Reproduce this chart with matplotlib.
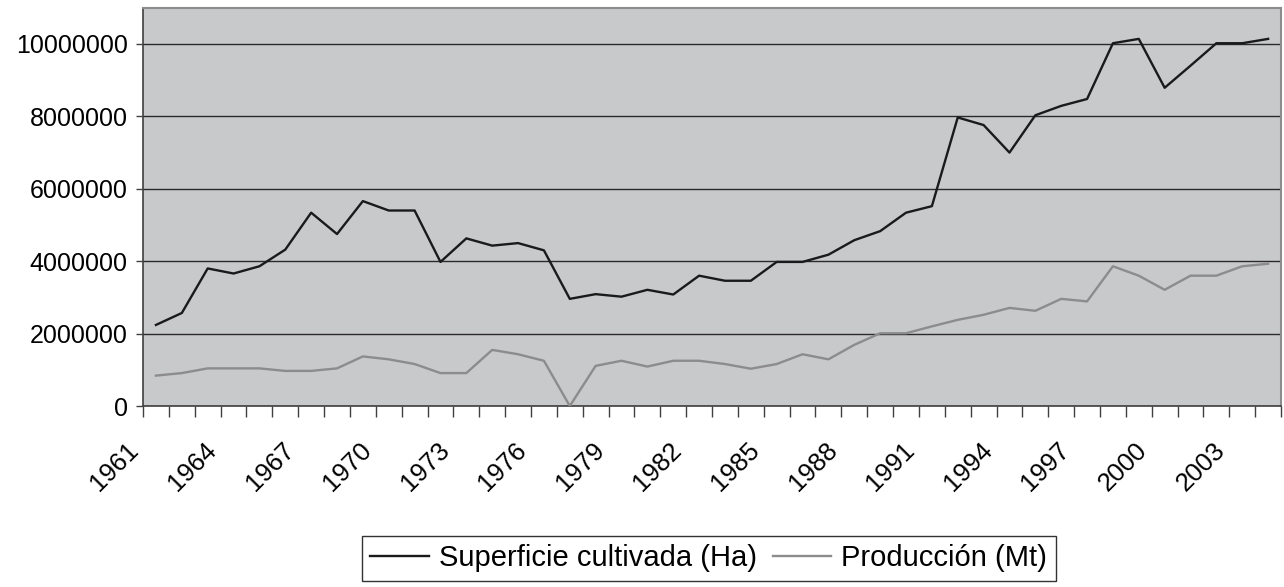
import matplotlib
matplotlib.use("Agg")
import matplotlib.pyplot as plt
import matplotlib.transforms as mtransforms
import numpy as np

plt.rcParams["font.family"] = ["Liberation Sans", "DejaVu Sans"]

years = list(range(1961, 2005))

# Superficie cultivada (Ha)
superficie = [
    2.24e6, 2.57e6, 3.80e6, 3.66e6, 3.86e6, 4.32e6, 5.34e6, 4.75e6, 5.66e6, 5.40e6,
    5.40e6, 3.98e6, 4.63e6, 4.43e6, 4.50e6, 4.30e6, 2.96e6, 3.09e6, 3.02e6, 3.21e6,
    3.08e6, 3.60e6, 3.46e6, 3.46e6, 3.98e6, 3.98e6, 4.18e6, 4.58e6, 4.83e6, 5.34e6,
    5.52e6, 7.97e6, 7.76e6, 7.00e6, 8.03e6, 8.29e6, 8.48e6, 10.02e6, 10.14e6, 8.79e6,
    9.40e6, 10.02e6, 10.02e6, 10.14e6,
]

# Producción (Mt)
produccion = [
    0.84e6, 0.91e6, 1.04e6, 1.04e6, 1.04e6, 0.97e6, 0.97e6, 1.04e6, 1.37e6, 1.29e6,
    1.16e6, 0.91e6, 0.91e6, 1.55e6, 1.43e6, 1.25e6, 0.0, 1.11e6, 1.25e6, 1.09e6,
    1.25e6, 1.25e6, 1.16e6, 1.03e6, 1.16e6, 1.43e6, 1.29e6, 1.69e6, 2.01e6, 2.01e6,
    2.20e6, 2.38e6, 2.52e6, 2.71e6, 2.63e6, 2.96e6, 2.89e6, 3.86e6, 3.60e6, 3.21e6,
    3.60e6, 3.60e6, 3.86e6, 3.93e6,
]

y_ticks = [0, 2000000, 4000000, 6000000, 8000000, 10000000]

fig = plt.figure(figsize=(12.84, 5.87), dpi=100)
ax = fig.add_axes([0.1114, 0.3083, 0.8863, 0.6785])
ax.set_facecolor("#c8c9cb")

x = np.arange(len(years))
ax.plot(x, superficie, color="#1a1a1a", linewidth=1.7, label="Superficie cultivada (Ha)", zorder=3)
ax.plot(x, produccion, color="#8c8c8c", linewidth=1.7, label="Producción (Mt)", zorder=3)

ax.set_xlim(-0.5, len(years) - 0.5)
ax.set_ylim(0, 11000000)
ax.set_yticks(y_ticks)
ax.set_yticklabels([str(v) for v in y_ticks], fontsize=18)
ax.yaxis.grid(True, color="#2a2a2a", linewidth=1.0)
ax.set_axisbelow(True)

# tick marks between categories, labels every 3 years
ax.set_xticks(np.arange(-0.5, len(years)), minor=False)
ax.set_xticklabels([])
ax.tick_params(axis="x", which="major", length=8, width=1, color="#404040", direction="out")
lab_idx = x[::3]
ax.set_xticks(lab_idx, minor=True)
ax.set_xticklabels([str(years[i]) for i in lab_idx], minor=True, fontsize=18.5,
                   rotation=45, ha="right", va="center", rotation_mode="anchor")
ax.tick_params(axis="x", which="minor", length=0, pad=12)
shift = mtransforms.ScaledTranslation(-21 / 100, -24 / 100, fig.dpi_scale_trans)
for lbl in ax.get_xticklabels(minor=True):
    lbl.set_transform(lbl.get_transform() + shift)
ax.tick_params(axis="y", length=5, width=1, color="#404040", pad=6)

for s in ["top", "right"]:
    ax.spines[s].set_color("#8c8c8c")
    ax.spines[s].set_linewidth(1.5)
for s in ["left", "bottom"]:
    ax.spines[s].set_color("#404040")
    ax.spines[s].set_linewidth(1.2)

leg = fig.legend(loc="center", bbox_to_anchor=(0.552, 0.0486), ncol=2, fontsize=21,
                 frameon=True, fancybox=False, edgecolor="black", handlelength=2.0,
                 handletextpad=0.35, columnspacing=0.55, borderpad=0.3, borderaxespad=0)
leg.get_frame().set_linewidth(1.0)

fig.savefig("out.png", dpi=100)
